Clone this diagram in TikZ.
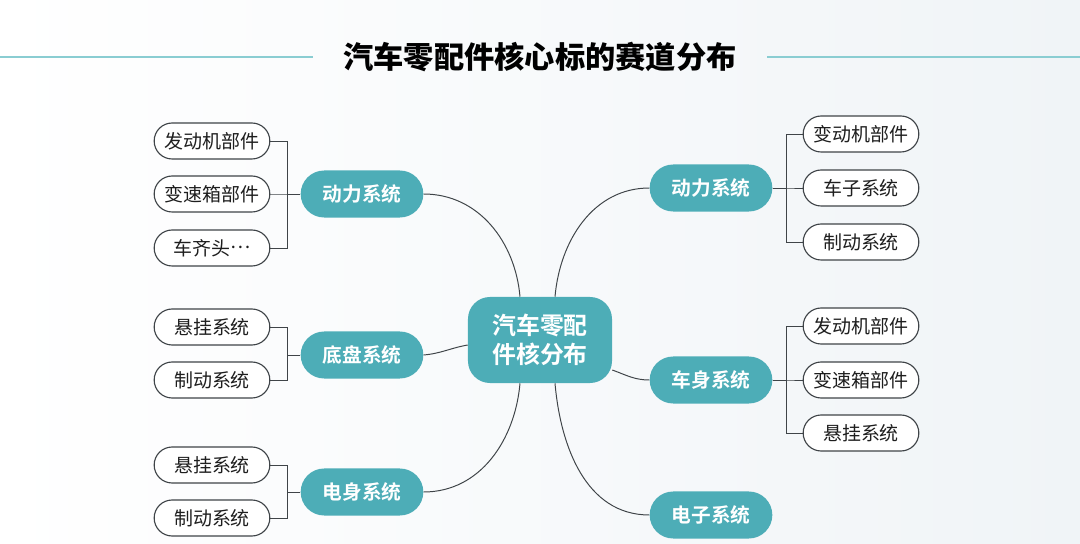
\documentclass[tikz,border=0pt]{standalone}
\usepackage{fontspec}
\setmainfont{Noto Sans CJK SC}[BoldFont={* Bold}]
\newfontfamily\titlefont{Noto Sans CJK SC Black}
\usetikzlibrary{shapes.misc,calc}

\definecolor{tealbox}{HTML}{4DADB7}
\definecolor{linegray}{HTML}{3F4448}
\definecolor{textdark}{HTML}{1E1E1E}
\definecolor{ruleteal}{HTML}{8ACDD2}
\definecolor{bgright}{HTML}{F0F4F7}

\tikzset{
	hub/.style={rectangle, rounded corners=0.55cm, fill=tealbox, text=white, align=center,
		minimum width=3.6cm, minimum height=2.15cm, font=\fontsize{17}{21}\selectfont\bfseries},
	branch/.style={rounded rectangle, fill=tealbox, text=white,
		minimum width=3.3cm, minimum height=1.175cm, font=\fontsize{14}{16}\selectfont\bfseries},
	leaf/.style={rounded rectangle, draw=linegray, line width=0.8pt, fill=white, text=textdark,
		minimum width=3.125cm, minimum height=0.9cm, font=\fontsize{13.5}{16}\selectfont},
	link/.style={draw=linegray, line width=0.7pt}
}

\begin{document}
\begin{tikzpicture}[x=0.025cm, y=-0.025cm]
	\shade[left color=white, right color=bgright] (0,0) rectangle (1080,544);
	\useasboundingbox (0,0) rectangle (1080,544);

	% title
	\node[inner sep=0, font=\fontsize{21.5}{26}\titlefont, text=black] (title) at (540,57) {汽车零配件核心标的赛道分布};
	\draw[ruleteal, line width=0.9pt] (0,57) -- (313,57);
	\draw[ruleteal, line width=0.9pt] (767,57) -- (1080,57);

	% centre
	\node[hub] (hub) at (540,340) {汽车零配\\件核分布};

	% left branches
	\node[branch] (bpower) at (362,194) {动力系统};
	\node[branch] (bchassis) at (362,355) {底盘系统};
	\node[branch] (bebody) at (362,492) {电身系统};

	% right branches
	\node[branch] (rpower) at (711,188) {动力系统};
	\node[branch] (rbody) at (711,380) {车身系统};
	\node[branch] (relec) at (711,515) {电子系统};

	% left leaves
	\node[leaf] (engine) at (212,141) {发动机部件};
	\node[leaf] (gearbox) at (212,194) {变速箱部件};
	\node[leaf] (axle) at (212,248) {车齐头\raisebox{0.33em}{…}};
	\node[leaf] (susp) at (212,327) {悬挂系统};
	\node[leaf] (brake) at (212,380) {制动系统};
	\node[leaf] (esusp) at (212,465) {悬挂系统};
	\node[leaf] (ebrake) at (212,518) {制动系统};

	% right leaves
	\node[leaf] (rengine) at (861,134) {变动机部件};
	\node[leaf] (rwheel) at (861,188) {车子系统};
	\node[leaf] (rbrake) at (861,242) {制动系统};
	\node[leaf] (bengine) at (861,326) {发动机部件};
	\node[leaf] (bgearbox) at (861,380) {变速箱部件};
	\node[leaf] (bsusp) at (861,433) {悬挂系统};

	% brackets
	\foreach \l/\b in {engine/bpower, gearbox/bpower, axle/bpower, susp/bchassis, brake/bchassis, esusp/bebody, ebrake/bebody}
		\draw[link] (\l.east) -- ++(17,0) |- (\b.west);
	\foreach \b/\l in {rpower/rengine, rpower/rwheel, rpower/rbrake, rbody/bengine, rbody/bgearbox, rbody/bsusp}
		\draw[link] (\b.east) -- ++(14,0) |- (\l.west);

	% curves to the centre
	\draw[link] (bpower.east) to[out=0, in=95] ($(hub.north)+(-20,0)$);
	\draw[link] (rpower.west) to[out=180, in=85] ($(hub.north)+(15,0)$);
	\draw[link] (bchassis.east) to[out=5, in=190] ($(hub.west)+(0,5)$);
	\draw[link] (bebody.east) to[out=0, in=-95] ($(hub.south)+(-20,0)$);
	\draw[link] (rbody.west) to[out=180, in=-20] ($(hub.east)+(0,30)$);
	\draw[link] (relec.west) to[out=180, in=-85] ($(hub.south)+(15,0)$);
\end{tikzpicture}
\end{document}
